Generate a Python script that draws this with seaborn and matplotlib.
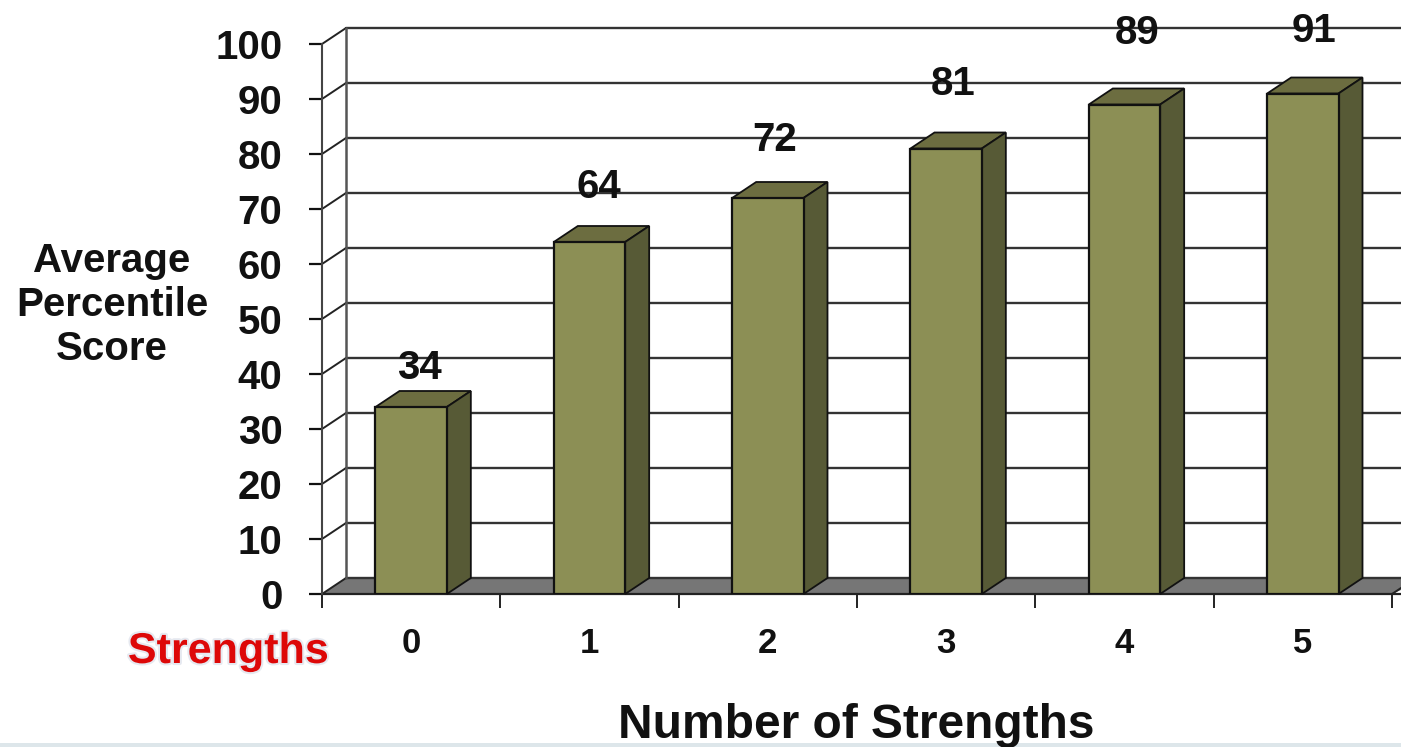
import matplotlib
matplotlib.use("Agg")
import matplotlib.pyplot as plt
import matplotlib.patheffects as pe
import pandas as pd
import seaborn as sns
from matplotlib.patches import Polygon, Rectangle

# Data
strengths = ["0", "1", "2", "3", "4", "5"]
scores = [34, 64, 72, 81, 89, 91]
y_ticks = [0, 10, 20, 30, 40, 50, 60, 70, 80, 90, 100]

# Where the value labels sit (they float above the bars in the original)
label_y = [41.1, 74.0, 82.5, 92.8, 102.0, 102.4]
label_shift = [0.045, 0.055, 0.04, 0.04, 0.07, 0.06]

# Fake 3D depth, in data units
depth_x = 24 / 178.33
depth_y = 16 / 5.5

W, H = 1401, 747
sns.set_theme(style="white")
plt.rcParams["font.family"] = ["Liberation Sans", "DejaVu Sans"]
plt.rcParams["font.weight"] = "bold"

df = pd.DataFrame({"Strengths": strengths, "Score": scores})

fig = plt.figure(figsize=(W / 100, H / 100), dpi=100)
ax = fig.add_axes([322 / W, 1 - 594 / H, (1392 - 322) / W, (594 - 44) / H])

sns.barplot(data=df, x="Strengths", y="Score", order=strengths, width=0.4,
            color="#8c8f55", saturation=1, edgecolor="#111111", linewidth=1.6,
            zorder=5, ax=ax)

ax.set_xlim(-0.5, 5.5)
ax.set_ylim(0, 100)
ax.patch.set_visible(False)
for s in ax.spines.values():
    s.set_visible(False)

right = 5.5 + depth_x * 1.5

# floor
ax.add_patch(Polygon([(-0.5, 0), (-0.5 + depth_x, depth_y), (right, depth_y), (5.5, 0)],
                     facecolor="#767676", edgecolor="none", zorder=1, clip_on=False))
ax.plot([-0.5, right], [0, 0], color="#222222", lw=1.6, zorder=2, clip_on=False)
ax.plot([5.5, right], [0, depth_y * 1.5], color="#222222", lw=1.4, zorder=2, clip_on=False)

# back wall grid, side wall and the diagonals
for t in y_ticks:
    back = t + depth_y
    ax.plot([-0.5 + depth_x, right], [back, back], color="#333333", lw=1.7, zorder=2, clip_on=False)
    ax.plot([-0.5, -0.5 + depth_x], [t, back], color="#222222", lw=1.4, zorder=2, clip_on=False)
ax.plot([-0.5, -0.5], [0, 100], color="#444444", lw=1.5, zorder=2, clip_on=False)
ax.plot([-0.5 + depth_x] * 2, [depth_y, 100 + depth_y], color="#555555", lw=1.8, zorder=2, clip_on=False)

# top and side faces of the bars
half = 0.2
for i, v in enumerate(scores):
    l, r = i - half, i + half
    ax.add_patch(Polygon([(l, v), (l + depth_x, v + depth_y), (r + depth_x, v + depth_y), (r, v)],
                         facecolor="#6c6d40", edgecolor="#111111", lw=1.3, zorder=4, clip_on=False))
    ax.add_patch(Polygon([(r, 0), (r + depth_x, depth_y), (r + depth_x, v + depth_y), (r, v)],
                         facecolor="#575a36", edgecolor="#111111", lw=1.3, zorder=4, clip_on=False))
    ax.text(i + label_shift[i], label_y[i], str(v), ha="center", va="center",
            fontsize=29, fontweight="bold", color="#111111", zorder=6, clip_on=False)

# axis ticks: x ticks sit between the categories, labels in the middle
ax.set_xticks([i - 0.5 for i in range(7)], labels=[""] * 7)
ax.set_xticks(range(6), labels=strengths, minor=True)
ax.tick_params(axis="x", which="major", length=10, width=1.4, color="#222222", bottom=True)
ax.tick_params(axis="x", which="minor", length=0, pad=23.5, labelsize=25, labelcolor="#111111")
ax.set_yticks(y_ticks)
ax.tick_params(axis="y", length=9.5, width=1.6, color="#111111", left=True, pad=19,
               labelsize=29, labelcolor="#111111")
ax.set_xlabel("")
ax.set_ylabel("")

# labels placed on the figure
fig.text(112 / W, 1 - 305 / H, "Average\nPercentile\nScore", ha="center", va="center",
         fontsize=29, fontweight="bold", color="#111111", linespacing=1.19)
fig.text(856 / W, 1 - 738 / H, "Number of Strengths", ha="center", va="baseline",
         fontsize=34.5, fontweight="bold", color="#111111")
fig.text(228 / W, 1 - 652 / H, "Strengths", ha="center", va="center",
         fontsize=31, fontweight="bold", color="#dd0808",
         path_effects=[pe.withStroke(linewidth=3, foreground="#e6e9f0")])

# pale strip along the bottom edge
fig.add_artist(Rectangle((0, 0), 1, 4 / H, transform=fig.transFigure,
                         facecolor="#dde6ea", edgecolor="none"))

fig.savefig("out.png", dpi=100)
